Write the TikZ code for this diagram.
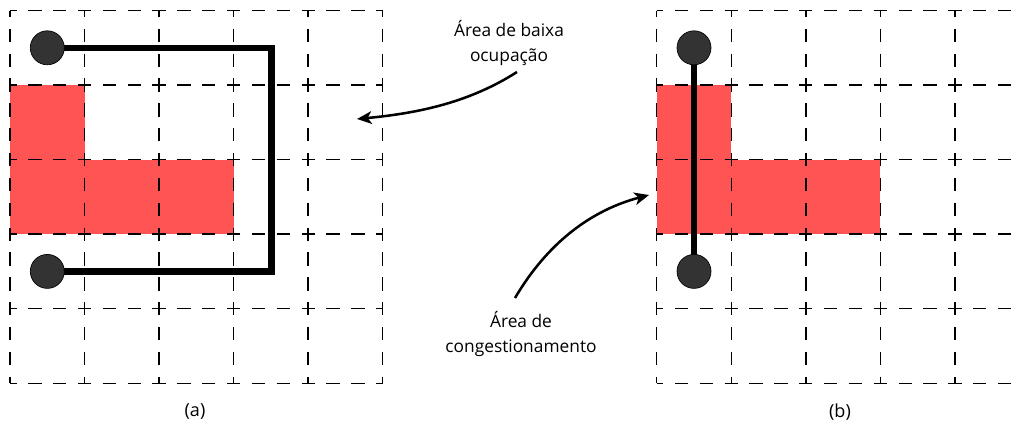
\documentclass[tikz,border=0pt]{standalone}
\usepackage{fontspec}
\setmainfont{Open Sans}
\usetikzlibrary{arrows.meta}
\definecolor{cong}{HTML}{FF5454}
\definecolor{pincol}{HTML}{333333}
\pgfdeclarelayer{back}
\pgfsetlayers{back,main}
\tikzset{
  gridline/.style={line width=1.1pt, dash pattern=on 10pt off 8.64pt, dash phase=5pt},
  congcell/.style={fill=cong},
  wire/.style={line width=4.9pt, line join=miter, line cap=butt},
  pinnode/.style={circle, fill=pincol, draw=black, line width=0.5pt, minimum size=25.5pt, inner sep=0pt},
  note/.style={align=center, font=\fontsize{13}{18.75}\selectfont, inner sep=0pt},
  sublabel/.style={font=\fontsize{13.5}{16}\selectfont, inner sep=0pt},
  callout/.style={line width=1.9pt, -{Stealth[length=11pt, width=9.5pt, inset=3pt]}},
}
\begin{document}
\begin{tikzpicture}[x=0.75pt, y=-0.75pt]
\useasboundingbox (0,0) rectangle (1020,425);
\def\c{74.55}
% grids and congestion cells
\begin{pgfonlayer}{back}
\begin{scope}
\clip (0,0) rectangle (1020,425);
\foreach \ox in {10, 656.7} {
  \fill[congcell] (\ox, 10.5+\c) rectangle (\ox+\c, 10.5+3*\c);
  \fill[congcell] (\ox+\c-0.3, 10.5+2*\c) rectangle (\ox+3*\c, 10.5+3*\c);
  \foreach \i in {0,...,5} {
    \draw[gridline] (\ox+\i*\c, 10.5) -- (\ox+\i*\c, 10.5+5*\c);
    \draw[gridline] (\ox, 10.5+\i*\c) -- (\ox+5*\c, 10.5+\i*\c);
  }
}
\end{scope}
\end{pgfonlayer}
% pins
\node[pinnode] (a1) at (47.3, 47.8) {};
\node[pinnode] (a2) at (47.3, 271.4) {};
\node[pinnode] (b1) at (694, 47.8) {};
\node[pinnode] (b2) at (694, 271.4) {};
\coordinate (ta) at (271.4, 47.8);
\coordinate (tb) at (271.4, 271.4);
% wires
\begin{pgfonlayer}{back}
\draw[wire] (a1.center) -- (ta) -- (tb) -- (a2.center);
\draw[wire] (b1.center) -- (b2.center);
\end{pgfonlayer}
% notes
\node[note] (low) at (509, 43) {Área de baixa\\ocupação};
\node[note] (cgt) at (521, 334) {Área de\\congestionamento};
\coordinate (lowtip) at (357, 119);
\coordinate (lowstart) at (517, 72);
\coordinate (cgttip) at (649, 195);
\coordinate (cgtstart) at (515, 298);
\draw[callout] (lowstart) .. controls (470,102) and (420,113) .. (lowtip);
\draw[callout] (cgtstart) .. controls (548,242) and (592,210) .. (cgttip);
% sub labels
\node[sublabel] (la) at (195, 411) {(a)};
\node[sublabel] (lb) at (840, 412) {(b)};
\end{tikzpicture}
\end{document}
